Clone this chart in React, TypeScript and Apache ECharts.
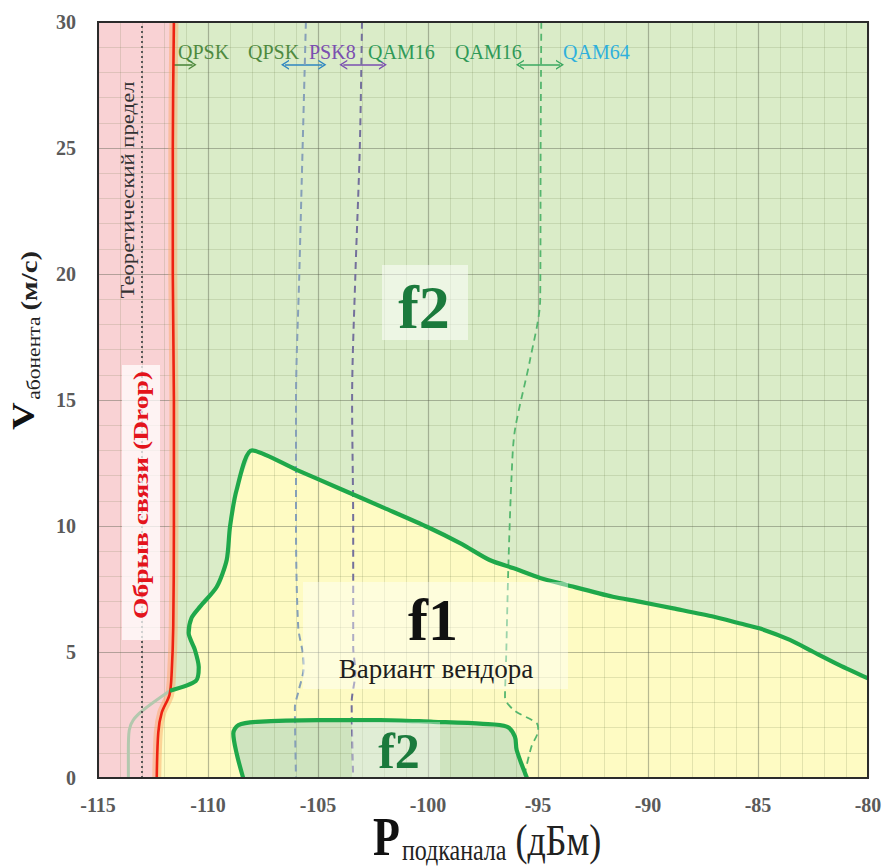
import React, { useEffect, useRef } from 'react';
import * as echarts from 'echarts';

const SERIF = '"Liberation Serif", "Times New Roman", serif';

// Axes
const X_MIN = -115;
const X_MAX = -80;
const Y_MIN = 0;
const Y_MAX = 30;
const MAJOR_STEP = 5;
const MINOR_SPLIT = 5;

// Red "drop" boundary
const RED_X = [-111.55, -111.6, -111.6, -111.55, -111.55, -111.58, -111.65, -111.75, -112.1, -112.26, -112.33];
const RED_Y = [30, 25, 20, 15, 10, 6, 4.2, 3.3, 2.6, 1.8, 0];

// faded grey line at the bottom left
const GRAY_X = [-111.73, -112.94, -113.4, -113.58, -113.62, -113.62];
const GRAY_Y = [3.46, 2.7, 2.3, 1.9, 1.1, 0];

// theoretical limit
const THEORY_X = [-113, -113];
const THEORY_Y = [0, 30];

// f1 boundary (vendor variant)
const F1_X = [-111.73, -110.55, -110.42, -110.6, -110.88, -110.75, -110.36, -109.6, -109.15, -109.0, -108.7, -108.0, -106.0, -104.0, -102.0, -100.0, -98.5, -97.2, -96.1, -94.9, -93.7, -91.6, -90.4, -88.85, -87.0, -85.8, -84.9, -83.55, -82.5, -81.3, -80.0];
const F1_Y = [3.46, 3.85, 4.4, 5.1, 5.75, 6.35, 6.8, 7.59, 8.65, 9.97, 11.43, 13.0, 12.24, 11.48, 10.72, 9.95, 9.3, 8.65, 8.32, 7.94, 7.66, 7.19, 7.0, 6.73, 6.4, 6.13, 5.93, 5.48, 5.01, 4.48, 3.95];

// small f2 region boundary
const F2_X = [-108.4, -108.7, -108.85, -108.62, -107.79, -105.0, -102.18, -99.76, -97.5, -96.42, -96.05, -95.97, -95.5];
const F2_Y = [0, 0.98, 1.77, 2.1, 2.23, 2.3, 2.3, 2.23, 2.15, 2.04, 1.64, 1.11, 0];

// modulation thresholds
const BLUE_X = [-105.55, -105.7, -105.85, -106.0, -106.0, -105.9, -105.7, -105.65, -105.9, -106.05, -106.0];
const BLUE_Y = [30, 25, 20, 15, 10, 6, 5.0, 4.4, 3.4, 2.8, 0];
const PURPLE_X = [-103.0, -103.1, -103.3, -103.45, -103.4, -103.4, -103.3, -103.47, -103.4];
const PURPLE_Y = [30, 25, 20, 15, 10, 5.2, 4.2, 3.0, 0];
const GREEN_X = [-94.85, -94.88, -94.9, -95.36, -96.05, -96.2, -96.35, -96.45, -96.5, -96.1, -95.06, -94.99, -95.3, -95.65];
const GREEN_Y = [30, 25, 19.0, 16.6, 13.8, 12, 8.3, 4.7, 3.2, 2.7, 2.17, 1.9, 1.24, 0];

// modulation labels (text, left px, colour)
const MOD_LABELS = ['QPSK', 'QPSK', 'PSK8', 'QAM16', 'QAM16', 'QAM64'];
const MOD_LEFT = [178, 248, 309, 368, 455, 563];
const MOD_COLORS = ['#4f8a3f', '#4f8a3f', '#7a4fb0', '#2f9a58', '#2f9a58', '#2fb0dc'];

// transition arrows
const ARROW_X0 = [-111.58, -106.5, -103.85, -95.82];
const ARROW_X1 = [-110.7, -104.8, -102.05, -94.0];
const ARROW_Y = 28.3;
const ARROW_BOTH = [false, true, true, true];
const ARROW_COLORS = ['#4f8a3f', '#2e86c1', '#7a4fb0', '#3aa860'];

const zip = (xs: number[], ys: number[]) => xs.map((x, i) => [x, ys[i]]);

const COL_BG = '#daecc8';
const COL_PINK = '#f9d2d4';
const COL_YELLOW = '#fefbc3';
const COL_F2 = '#cfe4bf';

function buildRegions() {
  const bg = [[X_MIN, Y_MIN], [X_MIN, Y_MAX], [X_MAX, Y_MAX], [X_MAX, Y_MIN]];
  const pink = [[X_MIN, Y_MIN], [X_MIN, Y_MAX], ...zip(RED_X, RED_Y)];
  const redLow = zip(RED_X, RED_Y).filter((p) => p[1] <= 3.3).reverse();
  const yellow = [[X_MAX, Y_MIN], ...redLow, ...zip(F1_X, F1_Y)];
  const f2 = zip(F2_X, F2_Y);
  return [
    { pts: bg, fill: COL_BG },
    { pts: pink, fill: COL_PINK },
    { pts: yellow, fill: COL_YELLOW },
    { pts: f2, fill: COL_F2 },
  ];
}

function measure(text: string, font: string) {
  const ctx = document.createElement('canvas').getContext('2d')!;
  ctx.font = font;
  return ctx.measureText(text).width;
}

const lineSeries = (name: string, xs: number[], ys: number[], style: any, smooth: number | boolean = 0.3, z = 5) => ({
  type: 'line',
  name,
  data: zip(xs, ys),
  showSymbol: false,
  symbol: 'none',
  smooth,
  silent: true,
  z,
  lineStyle: style,
});

const CHEVRON = 'path://M0,10 L6,0 L12,10 L10.2,10 L6,3.2 L1.8,10 Z';

export default function App() {
  const ref = useRef<HTMLDivElement>(null);
  useEffect(() => {
    if (!ref.current) return;
    const chart = echarts.init(ref.current, undefined, { renderer: 'svg' });
    const regions = buildRegions();

    const axisCommon = {
      type: 'value',
      interval: MAJOR_STEP,
      z: 3,
      axisLine: { show: false },
      axisTick: { show: false },
      splitLine: { show: true, lineStyle: { color: 'rgba(85,90,75,0.42)', width: 1.2 } },
      minorTick: { show: false, splitNumber: MINOR_SPLIT },
      minorSplitLine: { show: true, lineStyle: { color: 'rgba(95,110,60,0.17)', width: 1 } },
    };

    const pFont = `bold 44px ${SERIF}`;
    const subFont = `24px ${SERIF}`;
    const unitFont = `36px ${SERIF}`;
    const vFont = `bold 32px ${SERIF}`;
    const vSubFont = `18px ${SERIF}`;
    const vUnitFont = `bold 24px ${SERIF}`;

    const markLineData = ARROW_X0.map((x0, i) => [
      { coord: [x0, ARROW_Y], symbol: ARROW_BOTH[i] ? CHEVRON : 'none', lineStyle: { color: ARROW_COLORS[i], width: 1.6, type: 'solid' }, itemStyle: { color: ARROW_COLORS[i] } },
      { coord: [ARROW_X1[i], ARROW_Y], symbol: CHEVRON, itemStyle: { color: ARROW_COLORS[i] } },
    ]);

    const textEl = (text: string, x: number, y: number, font: string, fill: string, align = 'left', z = 10) => ({
      type: 'text',
      x,
      y,
      z,
      silent: true,
      style: { text, font, fill, align, verticalAlign: 'middle' },
    });

    const option: any = {
      animation: false,
      grid: { left: 98, right: 19, top: 22, bottom: 88, containLabel: false },
      xAxis: {
        ...axisCommon,
        min: X_MIN,
        max: X_MAX,
        axisLabel: { color: '#5a5a5a', fontFamily: SERIF, fontWeight: 'bold', fontSize: 20, margin: 17 },
      },
      yAxis: {
        ...axisCommon,
        min: Y_MIN,
        max: Y_MAX,
        axisLabel: { color: '#5a5a5a', fontFamily: SERIF, fontWeight: 'bold', fontSize: 20, margin: 22 },
      },
      series: [
        {
          type: 'custom',
          name: 'regions',
          z: 1,
          silent: true,
          data: regions.map((_, i) => [-100, 15, i]),
          encode: { x: 0, y: 1 },
          renderItem: (_params: any, api: any) => {
            const r = regions[api.value(2)];
            return {
              type: 'polygon',
              shape: { points: r.pts.map((p) => api.coord(p)) },
              style: { fill: r.fill },
            };
          },
        },
        lineSeries('glow', RED_X, RED_Y, { color: 'rgba(250,165,95,0.45)', width: 9 }, 0.3, 4),
        lineSeries('gray', GRAY_X, GRAY_Y, { color: '#b3c8ae', width: 3 }, 0.3, 4),
        {
          ...lineSeries('theory', THEORY_X, THEORY_Y, { color: '#5a5a5a', width: 2, type: [2, 3] }, false),
          markLine: {
            silent: true,
            symbolSize: [10, 8],
            label: { show: false },
            data: markLineData,
          },
        },
        lineSeries('blue', BLUE_X, BLUE_Y, { color: '#86a0b8', width: 2, type: [7, 5] }),
        lineSeries('purple', PURPLE_X, PURPLE_Y, { color: '#74709c', width: 2, type: [7, 5] }),
        lineSeries('green', GREEN_X, GREEN_Y, { color: '#55b66e', width: 1.8, type: [7, 5] }),
        lineSeries('red', RED_X, RED_Y, { color: '#ee2212', width: 2.6 }),
        lineSeries('f1', F1_X, F1_Y, { color: '#1fa84a', width: 4.2 }, 0.25),
        lineSeries('f2', F2_X, F2_Y, { color: '#1fa84a', width: 4.2 }, 0.3),
        {
          type: 'custom',
          name: 'frame',
          z: 8,
          silent: true,
          data: [[X_MIN, Y_MAX]],
          renderItem: (_params: any, api: any) => {
            const a = api.coord([X_MIN, Y_MAX]);
            const b = api.coord([X_MAX, Y_MIN]);
            return {
              type: 'rect',
              shape: { x: a[0], y: a[1], width: b[0] - a[0], height: b[1] - a[1] },
              style: { fill: 'none', stroke: '#2b2b2b', lineWidth: 2 },
            };
          },
        },
      ],
      graphic: [
        { type: 'rect', z: 6, silent: true, shape: { x: 122, y: 365, width: 38, height: 275 }, style: { fill: 'rgba(255,255,255,0.72)' } },
        { type: 'rect', z: 6, silent: true, shape: { x: 382, y: 265, width: 86, height: 75 }, style: { fill: 'rgba(255,255,255,0.5)' } },
        { type: 'rect', z: 6, silent: true, shape: { x: 303, y: 582, width: 265, height: 107 }, style: { fill: 'rgba(255,255,255,0.42)' } },
        { type: 'rect', z: 6, silent: true, shape: { x: 352, y: 722, width: 88, height: 55 }, style: { fill: 'rgba(255,255,255,0.35)' } },
        textEl('f2', 424, 307, `bold 62px ${SERIF}`, '#1b7a3c', 'center'),
        textEl('f1', 433, 620, `bold 60px ${SERIF}`, '#111111', 'center'),
        textEl('Вариант вендора', 436, 669, `27px ${SERIF}`, '#1e1e1e', 'center'),
        textEl('f2', 399, 751, `bold 50px ${SERIF}`, '#1b7a3c', 'center'),
        ...MOD_LABELS.map((t, i) => textEl(t, MOD_LEFT[i], 52, `20px ${SERIF}`, MOD_COLORS[i])),
        {
          type: 'group', x: 128, y: 190, rotation: Math.PI / 2, scaleX: 1.26, z: 10,
          children: [textEl('Теоретический предел', 0, 0, `18px ${SERIF}`, '#333333', 'center')],
        },
        {
          type: 'group', x: 140, y: 495, rotation: Math.PI / 2, scaleX: 1.25, z: 10,
          children: [textEl('Обрыв связи (Drop)', 0, 0, `bold 22px ${SERIF}`, '#e3141c', 'center')],
        },
        {
          type: 'group', x: 34, y: 430, rotation: Math.PI / 2, scaleX: 1.2, z: 10,
          children: [
            textEl('V', 0, -0.34 * 32, vFont, '#111111'),
            textEl('абонента', measure('V', vFont) + 2, 6 - 0.34 * 18, vSubFont, '#222222'),
            textEl('(м/с)', measure('V', vFont) + 2 + measure('абонента', vSubFont) + 5, 3 - 0.34 * 24, vUnitFont, '#222222'),
          ],
        },
        {
          type: 'group', x: 373, y: 855, scaleY: 1.25, z: 10,
          children: [
            textEl('P', 0, -0.34 * 44, pFont, '#111111'),
            textEl('подканала', measure('P', pFont) + 2, 4 - 0.34 * 24, subFont, '#222222'),
            textEl('(дБм)', measure('P', pFont) + 2 + measure('подканала', subFont) + 9, -0.34 * 36, unitFont, '#222222'),
          ],
        },
      ],
    };
    chart.setOption(option);
    return () => chart.dispose();
  }, []);
  return <div ref={ref} style={{ position: 'absolute', left: 0, top: 0, width: 887, height: 866 }} />;
}
